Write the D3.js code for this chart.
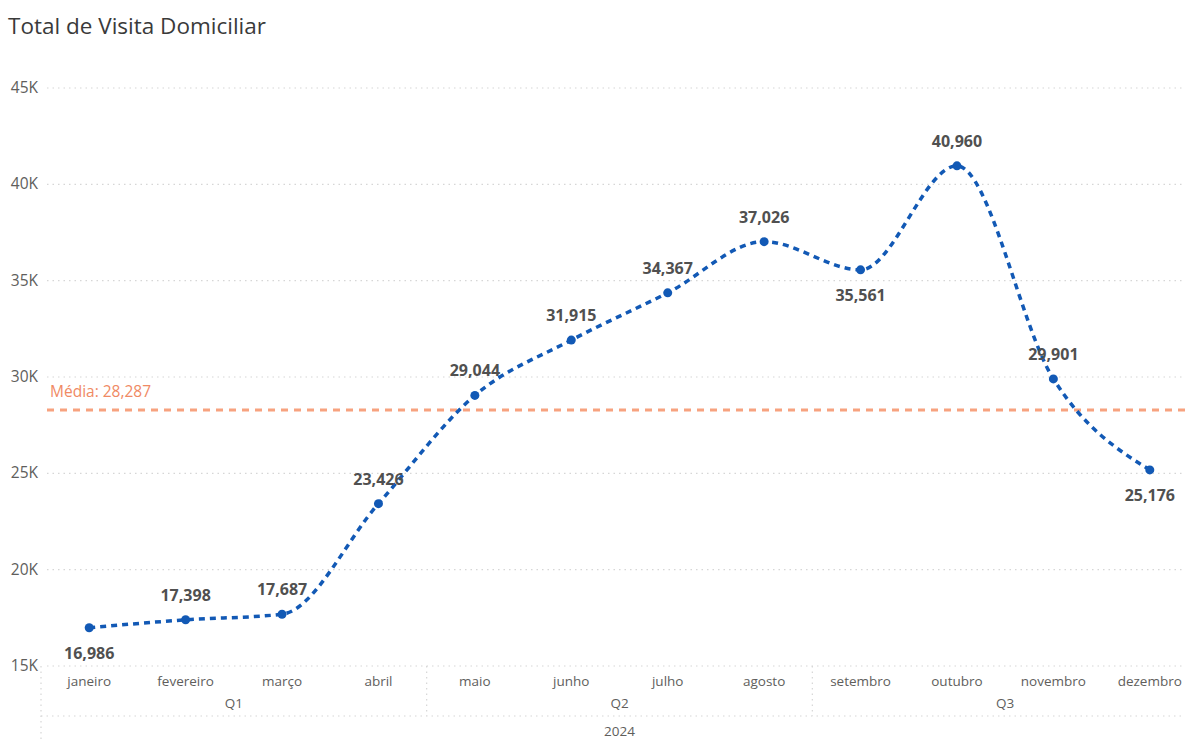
<!DOCTYPE html>
<html>
<head>
  <meta charset="utf-8">
  <script src="https://d3js.org/d3.v7.min.js"></script>
  <style>
    body { margin: 0; background: #fff; font-family: "Segoe UI", "Open Sans", "Noto Sans", sans-serif; }
  </style>
</head>
<body>
<svg id="chart"></svg>
<script>
  // data
  var months = ["janeiro", "fevereiro", "março", "abril", "maio", "junho",
                "julho", "agosto", "setembro", "outubro", "novembro", "dezembro"];
  var visits = [16986, 17398, 17687, 23426, 29044, 31915, 34367, 37026, 35561, 40960, 29901, 25176];
  var labelBelow = [true, false, false, false, false, false, false, false, true, false, false, true];
  var quarters = ["Q1", "Q2", "Q3"];
  var quarterSize = [4, 4, 4];
  var yTicks = [15000, 20000, 25000, 30000, 35000, 40000, 45000];
  var average = 28287;

  var w = 1187, h = 740;
  var svg = d3.select("#chart").attr("width", w).attr("height", h);

  var x = d3.scaleBand().domain(months).range([41, 1198]);
  var y = d3.scaleLinear().domain([15000, 45000]).range([666, 88]);
  var fmt = d3.format(",");

  // title
  svg.append("text").attr("x", 8).attr("y", 34)
    .text("Total de Visita Domiciliar")
    .attr("font-size", "22.5px").attr("fill", "#3a3a3a");

  // gridlines + y labels
  svg.selectAll(".grid").data(yTicks).enter().append("line")
    .attr("x1", 47).attr("x2", 1185)
    .attr("y1", function(d) { return y(d); }).attr("y2", function(d) { return y(d); })
    .attr("stroke", "#d6d6d6").attr("stroke-width", 1.2)
    .attr("stroke-dasharray", "1.5,4");

  svg.selectAll(".ytick").data(yTicks).enter().append("text")
    .attr("x", 38).attr("y", function(d) { return y(d) + 5; })
    .attr("text-anchor", "end").attr("font-size", "15.5px").attr("fill", "#605e5c")
    .text(function(d) { return (d / 1000) + "K"; });

  // hierarchical x axis
  var axisCol = "#d6d6d6";
  var dot = "1.5,4";
  svg.append("line").attr("x1", 41).attr("x2", 1185).attr("y1", 716).attr("y2", 716)
    .attr("stroke", axisCol).attr("stroke-width", 1.2).attr("stroke-dasharray", dot);
  svg.append("line").attr("x1", 41).attr("x2", 41).attr("y1", 666).attr("y2", 740)
    .attr("stroke", axisCol).attr("stroke-width", 1.2).attr("stroke-dasharray", dot);

  svg.selectAll(".mlabel").data(months).enter().append("text")
    .attr("x", function(d) { return x(d) + x.bandwidth() / 2; }).attr("y", 686)
    .attr("text-anchor", "middle").attr("font-size", "13.5px").attr("fill", "#605e5c")
    .text(function(d) { return d; });

  var start = 0;
  quarters.forEach(function(q, i) {
    var a = x(months[start]);
    var end = start + quarterSize[i] - 1;
    var b = x(months[end]) + x.bandwidth();
    svg.append("text").attr("x", (a + b) / 2).attr("y", 708)
      .attr("text-anchor", "middle").attr("font-size", "13.5px").attr("fill", "#605e5c")
      .text(q);
    if (i < quarters.length - 1) {
      svg.append("line").attr("x1", b).attr("x2", b).attr("y1", 666).attr("y2", 716)
        .attr("stroke", axisCol).attr("stroke-width", 1.2).attr("stroke-dasharray", dot);
    }
    start = end + 1;
  });

  svg.append("text").attr("x", (x.range()[0] + x.range()[1]) / 2).attr("y", 736)
    .attr("text-anchor", "middle").attr("font-size", "13.5px").attr("fill", "#605e5c")
    .text("2024");

  // average line
  svg.append("line").attr("x1", 47).attr("x2", 1185)
    .attr("y1", y(average)).attr("y2", y(average))
    .attr("stroke", "#f7a27f").attr("stroke-width", 3).attr("stroke-dasharray", "7,6");
  svg.append("text").attr("x", 50).attr("y", y(average) - 13)
    .attr("font-size", "15.5px").attr("fill", "#f08a64")
    .text("Média: " + fmt(average));

  // line series
  var pts = months.map(function(m, i) { return { m: m, v: visits[i], below: labelBelow[i] }; });
  var cx = function(d) { return x(d.m) + x.bandwidth() / 2; };

  var line = d3.line().x(cx).y(function(d) { return y(d.v); }).curve(d3.curveMonotoneX);
  svg.append("path").datum(pts).attr("d", line)
    .attr("fill", "none").attr("stroke", "#1259b5").attr("stroke-width", 3.5)
    .attr("stroke-dasharray", "6,5");

  svg.selectAll(".pt").data(pts).enter().append("circle")
    .attr("cx", cx).attr("cy", function(d) { return y(d.v); }).attr("r", 4.5)
    .attr("fill", "#1259b5");

  svg.selectAll(".dl").data(pts).enter().append("text")
    .attr("x", cx)
    .attr("y", function(d) { return y(d.v) + (d.below ? 31 : -19); })
    .attr("text-anchor", "middle").attr("font-size", "16px").attr("font-weight", "700")
    .attr("fill", "#505050")
    .text(function(d) { return fmt(d.v); });
</script>
</body>
</html>
